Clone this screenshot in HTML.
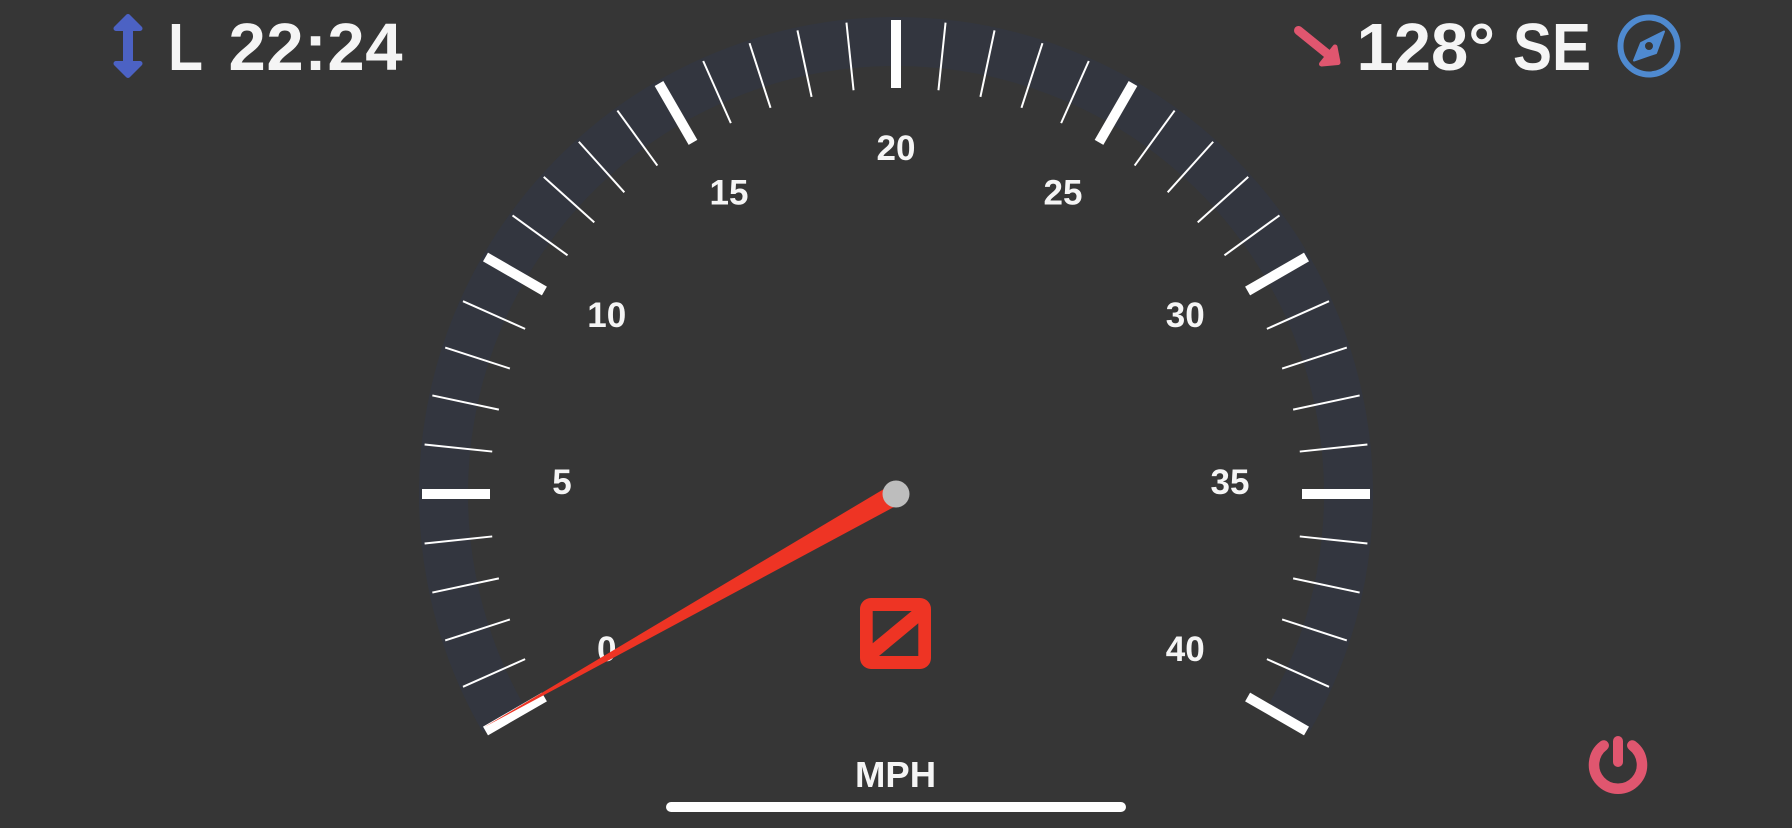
<!DOCTYPE html>
<html lang="en">
<head>
<meta charset="utf-8">
<title>Speedometer</title>
<style>
html,body{margin:0;padding:0;background:#363636;width:1792px;height:828px;overflow:hidden}
svg{display:block}
text{font-family:"Liberation Sans",sans-serif;font-weight:700;fill:#f5f5f5}
</style>
</head>
<body>
<svg id="gauge" width="1792" height="828" viewBox="0 0 1792 828" xmlns="http://www.w3.org/2000/svg">
  <rect width="1792" height="828" fill="#363636"/>
  <path id="band" fill="none" stroke="#33363f" stroke-width="49"/>
  <g id="ticks"></g>
  <g id="labels" font-size="35" text-anchor="middle"></g>
  <polygon id="needle" fill="#ee3424"/>
  <circle cx="896" cy="494" r="13.5" fill="#bdbdbd"/>

  <g fill="#4c62c4" stroke="#4c62c4" stroke-linejoin="round">
    <path d="M128 16.5 L116 28.5 H140 Z" stroke-width="5"/>
    <path d="M128 75.5 L116 63.5 H140 Z" stroke-width="5"/>
    <rect x="123" y="28" width="10" height="36" stroke="none"/>
  </g>
  <text x="168" y="70" font-size="67" textLength="35" lengthAdjust="spacingAndGlyphs">L</text>
  <text x="228.5" y="70" font-size="67" textLength="174" lengthAdjust="spacing">22:24</text>

  <g fill="#e0566f" stroke="#e0566f" stroke-linejoin="round" stroke-linecap="round">
    <line x1="1298.5" y1="30.5" x2="1330" y2="56" stroke-width="9"/>
    <path d="M1335 47 L1338 62.5 L1321.5 64 Z" stroke-width="5"/>
  </g>
  <text x="1356.5" y="70" font-size="67">128°</text>
  <text x="1513" y="70" font-size="67" textLength="78" lengthAdjust="spacingAndGlyphs">SE</text>
  <g>
    <circle cx="1649" cy="46" r="28.5" fill="none" stroke="#4f8ad0" stroke-width="6"/>
    <path fill-rule="evenodd" fill="#4f8ad0" stroke="#4f8ad0" stroke-width="2" stroke-linejoin="round" d="M1664 31.5 L1656 53 L1634 60.5 L1641 43 Z M1654 46 A5 5 0 1 0 1644 46 A5 5 0 1 0 1654 46 Z"/>
  </g>

  <path fill-rule="evenodd" fill="#ee3424" d="M871 598 H920 A11 11 0 0 1 931 609 V658 A11 11 0 0 1 920 669 H871 A11 11 0 0 1 860 658 V609 A11 11 0 0 1 871 598 Z M872.7 611 V643.3 L911.7 611 Z M918.3 623.3 L879 656 H918.3 Z"/>

  <text x="895.5" y="787" font-size="36.5" text-anchor="middle">MPH</text>
  <rect x="666" y="802" width="460" height="10" rx="5" fill="#ffffff"/>

  <g fill="none" stroke="#e0566f" stroke-linecap="round">
    <path d="M1603.7 745.5 A24 24 0 1 0 1632.3 745.5" stroke-width="10.5"/>
    <line x1="1618" y1="741" x2="1618" y2="762" stroke-width="10"/>
  </g>
</svg>
<script>
// Gauge data
const tickValues = [0,1,2,3,4,5,6,7,8,9,10,11,12,13,14,15,16,17,18,19,20,21,22,23,24,25,26,27,28,29,30,31,32,33,34,35,36,37,38,39,40];
const majorTickValues = [0,5,10,15,20,25,30,35,40];
const labelValues = [0,5,10,15,20,25,30,35,40];
const speedValue = 0.08;
const scaleMin = 0;
const scaleMax = 40;

// Axis functions
const NS = 'http://www.w3.org/2000/svg';
const cx = 896, cy = 494;
const startDeg = -120, endDeg = 120;
function angleOf(v) {
  return (startDeg + (v - scaleMin) / (scaleMax - scaleMin) * (endDeg - startDeg)) * Math.PI / 180;
}
function polar(v, r, offset) {
  const a = angleOf(v);
  const o = offset || 0;
  return [cx + r * Math.sin(a) + o * Math.cos(a), cy - r * Math.cos(a) + o * Math.sin(a)];
}

// Band
const bandStart = polar(scaleMin, 452.5);
const bandEnd = polar(scaleMax, 452.5);
document.getElementById('band').setAttribute('d',
  'M' + bandStart[0] + ' ' + bandStart[1] + ' A452.5 452.5 0 1 1 ' + bandEnd[0] + ' ' + bandEnd[1]);

// Ticks
const tickGroup = document.getElementById('ticks');
tickValues.forEach(function (v) {
  const major = majorTickValues.indexOf(v) !== -1;
  const p1 = polar(v, 406);
  const p2 = polar(v, 474);
  const line = document.createElementNS(NS, 'line');
  line.setAttribute('x1', p1[0]);
  line.setAttribute('y1', p1[1]);
  line.setAttribute('x2', p2[0]);
  line.setAttribute('y2', p2[1]);
  line.setAttribute('stroke', '#ffffff');
  line.setAttribute('stroke-width', major ? 10 : 2);
  
  
  tickGroup.appendChild(line);
});

// Labels
const labelGroup = document.getElementById('labels');
labelValues.forEach(function (v) {
  const p = polar(v, 334);
  const t = document.createElementNS(NS, 'text');
  t.setAttribute('x', p[0]);
  t.setAttribute('y', p[1]);
  t.textContent = String(v);
  
  
  labelGroup.appendChild(t);
});

// Needle
const tip = polar(speedValue, 473);
const baseA = polar(speedValue, 0, 10.5);
const baseB = polar(speedValue, 0, -10.5);
document.getElementById('needle').setAttribute('points',
  tip[0] + ',' + tip[1] + ' ' + baseA[0] + ',' + baseA[1] + ' ' + baseB[0] + ',' + baseB[1]);
</script>
</body>
</html>
